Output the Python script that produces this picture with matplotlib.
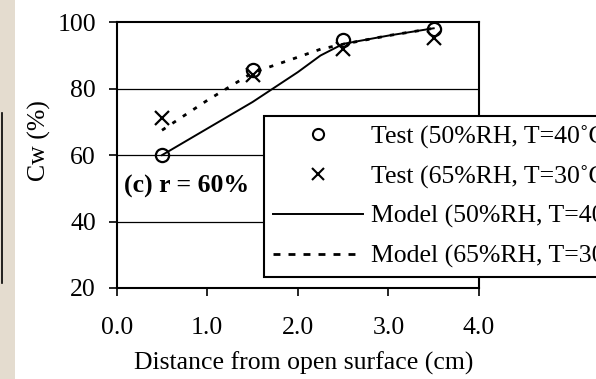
import matplotlib
matplotlib.use('Agg')
import matplotlib.pyplot as plt
from matplotlib.patches import Rectangle
from matplotlib.lines import Line2D

plt.rcParams['font.family'] = ['Liberation Serif', 'DejaVu Serif']

# measured points
test_x = [0.5, 1.5, 2.5, 3.5]
test_50 = [60.0, 85.6, 94.8, 97.9]
test_65 = [71.1, 84.1, 91.9, 95.2]

# model curves
model_x = [0.5, 1.0, 1.5, 2.0, 2.25, 2.5, 3.0, 3.5]
model_50 = [60.0, 68.0, 76.0, 85.0, 90.0, 93.5, 96.0, 98.2]
model_65 = [67.5, 76.5, 84.8, 89.5, 91.9, 93.4, 96.0, 98.2]

labels = ['Test (50%RH, T=40˚C)', 'Test (65%RH, T=30˚C)',
          'Model (50%RH, T=40˚C)', 'Model (65%RH, T=30˚C)']
x_ticks = [0.0, 1.0, 2.0, 3.0, 4.0]
y_ticks = [20, 40, 60, 80, 100]

FS = 18.5
W, H = 596, 379
fig = plt.figure(figsize=(W / 100, H / 100), dpi=100)
fig.patch.set_facecolor('white')

# beige strip along the left edge
fig.patches.append(Rectangle((0, 0), 15 / W, 1, transform=fig.transFigure,
                             facecolor='#e4dccf', edgecolor='none', zorder=0))
fig.lines.append(Line2D([2 / W, 2 / W], [1 - 283 / H, 1 - 113 / H],
                        transform=fig.transFigure, color='black', lw=1.2))

ax = fig.add_axes([116.7 / W, 1 - 288 / H, (479 - 116.7) / W, (288 - 22.3) / H])

for yv in y_ticks[1:-1]:
    ax.axhline(yv, color='black', lw=0.9, zorder=1)

ax.plot(model_x, model_50, color='black', lw=1.4, zorder=2)
ax.plot(model_x, model_65, color='black', lw=2.0, linestyle=(0, (1.5, 3.0)), zorder=2)
ax.plot(test_x, test_50, linestyle='none', marker='o', markersize=9.5,
        markerfacecolor='none', markeredgecolor='black', markeredgewidth=1.6, zorder=3)
ax.plot(test_x, test_65, linestyle='none', marker='x', markersize=10,
        color='black', markeredgewidth=1.6, zorder=3)

ax.set_xlim(0, 4)
ax.set_ylim(20, 100)
ax.set_xticks(x_ticks)
ax.set_xticklabels([f'{v:.1f}' for v in x_ticks])
ax.set_yticks(y_ticks)
ax.tick_params(direction='out', length=6, width=1.2, labelsize=FS, color='black')
ax.tick_params(axis='x', pad=15)
ax.tick_params(axis='y', pad=9)
for s in ax.spines.values():
    s.set_linewidth(1.5)
    s.set_color('black')

ax.text(124 / W, 1 - 186 / H, '(c) r = 60%', transform=fig.transFigure,
        fontsize=FS, fontweight='bold', va='center', ha='left')

fig.text(39 / W, 1 - 141 / H, 'Cw (%)', rotation=90, fontsize=FS,
         ha='center', va='center')
fig.text(304 / W, 1 - 363 / H, 'Distance from open surface (cm)', fontsize=FS,
         ha='center', va='center')

handles = [
    Line2D([], [], linestyle='none', marker='o', markersize=8, markerfacecolor='none',
           markeredgecolor='black', markeredgewidth=1.5),
    Line2D([], [], linestyle='none', marker='x', markersize=8, color='black',
           markeredgewidth=1.5),
    Line2D([], [], color='black', lw=1.4),
    Line2D([], [], color='black', lw=2.0, linestyle=(0, (2.5, 2.9))),
]
leg = fig.legend(handles, labels, loc='upper left',
                 bbox_to_anchor=(264 / W, 1 - 116 / H), borderaxespad=0,
                 fontsize=FS, frameon=True, fancybox=False, framealpha=1,
                 edgecolor='black', handlelength=3.5, handletextpad=0.31,
                 borderpad=0.36, labelspacing=0.64)
leg.get_frame().set_linewidth(1.5)

fig.savefig('out.png', dpi=100)
